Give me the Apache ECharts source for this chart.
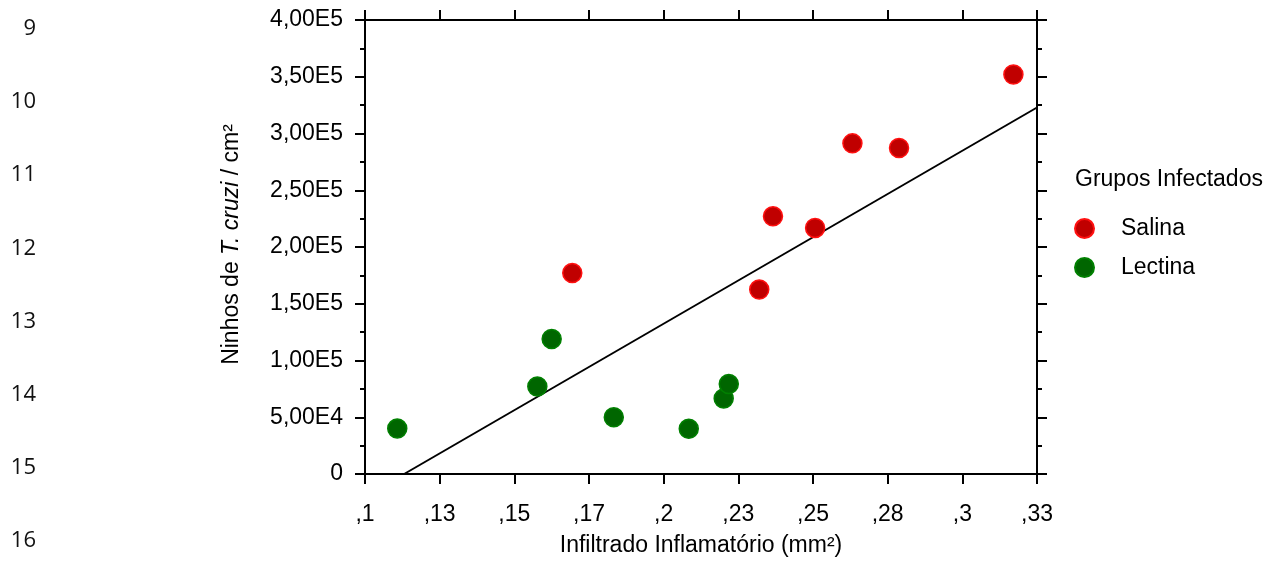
<!DOCTYPE html>
<html>
<head>
<meta charset="utf-8">
<script src="https://cdn.jsdelivr.net/npm/echarts@6/dist/echarts.min.js"></script>
<style>
  html, body { margin: 0; padding: 0; background: #fff; }
  #chart { width: 1282px; height: 562px; }
</style>
</head>
<body>
<div id="chart"></div>
<script>
// ---- data ----
const xTickLabels = [',1', ',13', ',15', ',17', ',2', ',23', ',25', ',28', ',3', ',33'];
const yTickLabels = ['0', '5,00E4', '1,00E5', '1,50E5', '2,00E5', '2,50E5', '3,00E5', '3,50E5', '4,00E5'];
const salina = [
  [0.1694, 177000], [0.2320, 162500], [0.2366, 227000], [0.2507, 216800],
  [0.2632, 291300], [0.2788, 287200], [0.3171, 352000]
];
const lectina = [
  [0.1108, 40000], [0.1577, 77100], [0.1625, 118900], [0.1833, 50000],
  [0.2084, 39800], [0.2201, 66600], [0.2218, 79200]
];
const fitLine = [[0.1131, 0], [0.325, 322900]];
const lineNumbers = ['9', '10', '11', '12', '13', '14', '15', '16'];
const legendTitle = 'Grupos Infectados';

// ---- chart ----
const FONT = '"Liberation Sans", Arial, sans-serif';
const FS = 23;
const xMin = 0.1, xStep = 0.025, xMax = 0.325;
const yMin = 0, yStep = 50000, yMax = 400000;

const chart = echarts.init(document.getElementById('chart'), null, { renderer: 'canvas' });

const axisLineStyle = { color: '#000', width: 2 };
const tickStyle = { color: '#000', width: 2 };

const option = {
  animation: false,
  backgroundColor: '#fff',
  grid: { left: 365, right: 245, top: 20, bottom: 85, containLabel: false },
  xAxis: [
    {
      type: 'value', position: 'bottom', min: xMin, max: xMax, interval: xStep,
      axisLine: { show: true, onZero: false, lineStyle: axisLineStyle },
      axisTick: { show: true, inside: false, length: 10, lineStyle: tickStyle },
      splitLine: { show: false },
      axisLabel: {
        margin: 29, color: '#000', fontSize: FS, fontFamily: FONT,
        formatter: v => xTickLabels[Math.round((v - xMin) / xStep)] || ''
      },
      name: 'Infiltrado Inflamatório (mm²)',
      nameLocation: 'middle', nameGap: 60,
      nameTextStyle: { color: '#000', fontSize: FS, fontFamily: FONT }
    },
    {
      type: 'value', position: 'top', min: xMin, max: xMax, interval: xStep,
      axisLine: { show: true, onZero: false, lineStyle: axisLineStyle },
      axisTick: { show: true, inside: false, length: 10, lineStyle: tickStyle },
      splitLine: { show: false },
      axisLabel: { show: false }
    }
  ],
  yAxis: [
    {
      type: 'value', position: 'left', min: yMin, max: yMax, interval: yStep,
      axisLine: { show: true, onZero: false, lineStyle: axisLineStyle },
      axisTick: { show: true, inside: false, length: 10, lineStyle: tickStyle },
      minorTick: { show: true, splitNumber: 2, length: 5, lineStyle: { color: '#000', width: 2 } },
      splitLine: { show: false },
      axisLabel: {
        margin: 22, color: '#000', fontSize: FS, fontFamily: FONT,
        formatter: v => yTickLabels[Math.round((v - yMin) / yStep)] || ''
      },
      name: 'Ninhos de {i|T. cruzi} / cm²',
      nameLocation: 'middle', nameRotate: 90, nameGap: 122,
      nameTextStyle: {
        color: '#000', fontSize: FS, fontFamily: FONT, padding: [0, 0, 0, 5],
        rich: { i: { fontStyle: 'italic', color: '#000', fontSize: FS, fontFamily: FONT } }
      }
    },
    {
      type: 'value', position: 'right', min: yMin, max: yMax, interval: yStep,
      axisLine: { show: true, onZero: false, lineStyle: axisLineStyle },
      axisTick: { show: true, inside: false, length: 10, lineStyle: tickStyle },
      minorTick: { show: true, splitNumber: 2, length: 5, lineStyle: { color: '#000', width: 2 } },
      splitLine: { show: false },
      axisLabel: { show: false }
    }
  ],
  legend: {
    data: ['Salina', 'Lectina'],
    orient: 'vertical', left: 1074, top: 217, padding: 0,
    itemWidth: 19, itemHeight: 19, itemGap: 16,
    icon: 'circle',
    textStyle: { color: '#000', fontSize: FS, fontFamily: FONT, padding: [0, 0, 0, 22] }
  },
  graphic: [
    {
      type: 'text', left: 1075, top: 168,
      style: { text: legendTitle, fill: '#000', font: FS + 'px ' + FONT }
    }
  ].concat(lineNumbers.map((t, i) => ({
    type: 'text', x: 36, y: 29 + 73.1 * i,
    style: {
      text: t, fill: '#111', font: '22px "Open Sans", Lato, sans-serif',
      textAlign: 'right', textVerticalAlign: 'middle'
    }
  }))),
  series: [
    {
      name: 'Fit', type: 'line', data: fitLine, xAxisIndex: 0, yAxisIndex: 0,
      showSymbol: false, symbol: 'none', silent: true,
      lineStyle: { color: '#000', width: 2 }, z: 1
    },
    {
      name: 'Lectina', type: 'scatter', data: lectina, symbolSize: 19,
      itemStyle: { color: '#006600', borderColor: '#008000', borderWidth: 1.5, opacity: 1 }, z: 3
    },
    {
      name: 'Salina', type: 'scatter', data: salina, symbolSize: 19,
      itemStyle: { color: '#c00000', borderColor: '#ff1010', borderWidth: 1.5, opacity: 1 }, z: 3
    }
  ]
};
chart.setOption(option);
</script>
</body>
</html>
